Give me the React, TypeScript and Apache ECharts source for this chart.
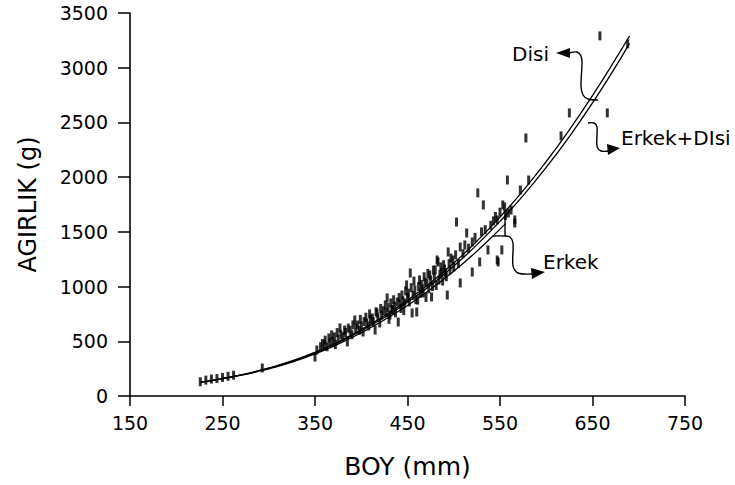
import React, { useEffect, useRef } from "react";
import * as echarts from "echarts";

// Observed fish: [BOY (mm), AGIRLIK (g)]
const observations: number[][] = [
  [226, 130], [232, 145], [238, 155], [244, 160], [250, 170], [256, 180], [262, 190],
  [293, 256], [350, 356], [352, 420], [356, 450], [358, 480], [360, 470], [361, 510],
  [363, 450], [365, 530], [366, 490], [368, 558], [369, 500], [371, 540], [372, 470],
  [374, 580], [375, 520], [377, 622], [378, 560], [380, 540], [382, 603], [383, 580],
  [385, 494], [386, 620], [388, 600], [390, 560], [391, 650], [393, 695], [394, 620],
  [396, 649], [398, 600], [399, 700], [400, 640], [402, 585], [403, 680], [405, 720],
  [406, 667], [408, 640], [409, 750], [410, 700], [412, 713], [413, 680], [415, 603],
  [416, 770], [417, 759], [418, 720], [420, 667], [421, 800], [422, 740], [424, 780],
  [426, 832], [427, 760], [428, 896], [429, 810], [430, 700], [431, 740], [432, 850],
  [433, 790], [434, 786], [435, 880], [436, 820], [437, 760], [439, 859], [440, 676],
  [441, 900], [442, 840], [443, 800], [444, 923], [445, 870], [446, 780], [447, 850],
  [448, 960], [449, 1015], [450, 900], [451, 940], [452, 860], [453, 1124], [454, 990],
  [455, 759], [456, 920], [457, 1050], [458, 969], [459, 880], [460, 768], [461, 877],
  [462, 1000], [463, 1060], [464, 940], [465, 1020], [466, 980], [467, 941], [468, 1090],
  [469, 1040], [470, 900], [471, 1033], [472, 1120], [473, 980], [474, 1106], [475, 1060],
  [476, 905], [477, 1000], [478, 1150], [479, 1080], [480, 1152], [481, 1010], [482, 1243],
  [483, 1225], [484, 1060], [485, 1110], [486, 1180], [487, 1130], [488, 1050], [489, 1200],
  [490, 1160], [491, 1124], [492, 1090], [493, 923], [494, 1316], [495, 1210], [496, 1150],
  [497, 1260], [499, 1243], [500, 1180], [502, 1290], [503, 1590], [505, 1210], [507, 1362],
  [507, 1033], [510, 1300], [512, 1380], [514, 1490], [516, 1350], [520, 1408], [520, 1133],
  [523, 1450], [526, 1856], [528, 1225], [530, 1500], [532, 1746], [534, 1520], [537, 1335],
  [540, 1560], [543, 1600], [545, 1640], [547, 1609], [547, 1243], [548, 1225], [550, 1680],
  [552, 1335], [553, 1746], [555, 1728], [556, 1650], [558, 1974], [559, 1673], [562, 1700],
  [566, 1581], [566, 1609], [572, 1883], [581, 1974], [578, 2358], [616, 2377], [625, 2587],
  [666, 2587], [658, 3291], [688, 3218],
];

// Fitted curves: [BOY, AGIRLIK]
const curveDisi: number[][] = [
  [250, 162], [275, 203], [300, 256], [325, 320], [350, 400], [375, 496], [400, 607],
  [425, 733], [450, 875], [475, 1036], [500, 1215], [525, 1415], [550, 1636], [575, 1877],
  [600, 2143], [625, 2432], [650, 2745], [675, 3080], [690, 3290],
];
const curveErkekDisi: number[][] = [
  [226, 125], [250, 160], [275, 200], [293, 238], [300, 252], [325, 315], [350, 393],
  [375, 487], [400, 595], [425, 718], [450, 856], [475, 1013], [500, 1187], [525, 1381],
  [550, 1596], [575, 1831], [600, 2090], [625, 2371], [650, 2678], [675, 3010], [690, 3223],
];
const curveErkek: number[][] = [
  [226, 124], [250, 158], [275, 197], [293, 234], [300, 248], [325, 309], [350, 384],
  [375, 474], [400, 578], [425, 696], [450, 827], [475, 976], [500, 1140], [525, 1323],
  [550, 1525], [556, 1575],
];

const xTitle = "BOY (mm)";
const yTitle = "AGIRLIK (g)";
const labelDisi = "Disi";
const labelErkekDisi = "Erkek+DIsi";
const labelErkek = "Erkek";

const FONT = "DejaVu Sans";

export default function App() {
  const ref = useRef<HTMLDivElement>(null);

  useEffect(() => {
    if (!ref.current) return;
    const chart = echarts.init(ref.current, null, { renderer: "svg" });
    const lineCommon = {
      type: "line" as const,
      showSymbol: false,
      smooth: true,
      lineStyle: { color: "#000", width: 1.3 },
      silent: true,
      z: 3,
    };
    const hookStyle = { stroke: "#000", lineWidth: 1.4, fill: "none" };
    const headStyle = { fill: "#000" };
    const textStyle = (t: string) => ({
      text: t,
      font: `20px "${FONT}"`,
      fill: "#000",
    });

    chart.setOption({
      animation: false,
      backgroundColor: "#fff",
      grid: { left: 130, top: 13, width: 555, height: 383, containLabel: false },
      xAxis: {
        type: "value",
        min: 150,
        max: 750,
        interval: 100,
        name: xTitle,
        nameLocation: "middle",
        nameGap: 58,
        nameTextStyle: { fontFamily: FONT, fontSize: 25, color: "#000" },
        axisLine: { show: true, lineStyle: { color: "#000", width: 1.6 } },
        axisTick: { show: true, inside: false, length: 10, lineStyle: { color: "#000", width: 1.5 } },
        axisLabel: {
          color: "#000",
          fontFamily: FONT,
          fontSize: 19,
          margin: 17,
          formatter: (v: number) => String(v),
        },
        splitLine: { show: false },
      },
      yAxis: {
        type: "value",
        min: 0,
        max: 3500,
        interval: 500,
        name: yTitle,
        nameLocation: "middle",
        nameGap: 90,
        nameRotate: 90,
        nameTextStyle: { fontFamily: FONT, fontSize: 24, color: "#000" },
        axisLine: { show: true, lineStyle: { color: "#000", width: 1.6 } },
        axisTick: { show: true, inside: false, length: 12, lineStyle: { color: "#000", width: 1.5 } },
        axisLabel: {
          color: "#000",
          fontFamily: FONT,
          fontSize: 19,
          margin: 22,
          formatter: (v: number) => String(v),
        },
        splitLine: { show: false },
      },
      series: [
        {
          type: "scatter",
          data: observations,
          symbol: "rect",
          symbolSize: [3, 9],
          itemStyle: { color: "#000" },
          silent: true,
          z: 2,
        },
        { ...lineCommon, name: labelDisi, data: curveDisi },
        { ...lineCommon, name: labelErkekDisi, data: curveErkekDisi },
        { ...lineCommon, name: labelErkek, data: curveErkek },
      ],
      graphic: [
        // Disi annotation
        { type: "text", x: 512, y: 44, style: textStyle(labelDisi) },
        {
          type: "polyline",
          shape: {
            points: [[569, 53], [577, 52], [581, 56], [582, 63], [581, 86], [583, 95], [588, 99], [598, 100]],
            smooth: 0.3,
          },
          style: hookStyle,
        },
        { type: "polygon", shape: { points: [[556, 53], [570, 48], [570, 58]] }, style: headStyle },
        // Erkek+DIsi annotation
        { type: "text", x: 621, y: 128, style: textStyle(labelErkekDisi) },
        {
          type: "polyline",
          shape: {
            points: [[588, 123], [594, 123], [597, 127], [597, 146], [601, 151], [609, 151]],
            smooth: 0.3,
          },
          style: hookStyle,
        },
        { type: "polygon", shape: { points: [[620, 148], [607, 144], [608, 155]] }, style: headStyle },
        // Erkek annotation
        { type: "text", x: 543, y: 252, style: textStyle(labelErkek) },
        { type: "line", shape: { x1: 505, y1: 216, x2: 505, y2: 236 }, style: hookStyle },
        {
          type: "polyline",
          shape: {
            points: [[493, 236], [505, 236], [510, 237], [513, 243], [513, 266], [518, 273], [532, 274]],
            smooth: 0.3,
          },
          style: hookStyle,
        },
        { type: "polygon", shape: { points: [[545, 272], [531, 268], [532, 279]] }, style: headStyle },
      ],
    });
    return () => chart.dispose();
  }, []);

  return (
    <div
      ref={ref}
      style={{ position: "fixed", left: 0, top: 0, width: 735, height: 485, background: "#fff" }}
    />
  );
}
